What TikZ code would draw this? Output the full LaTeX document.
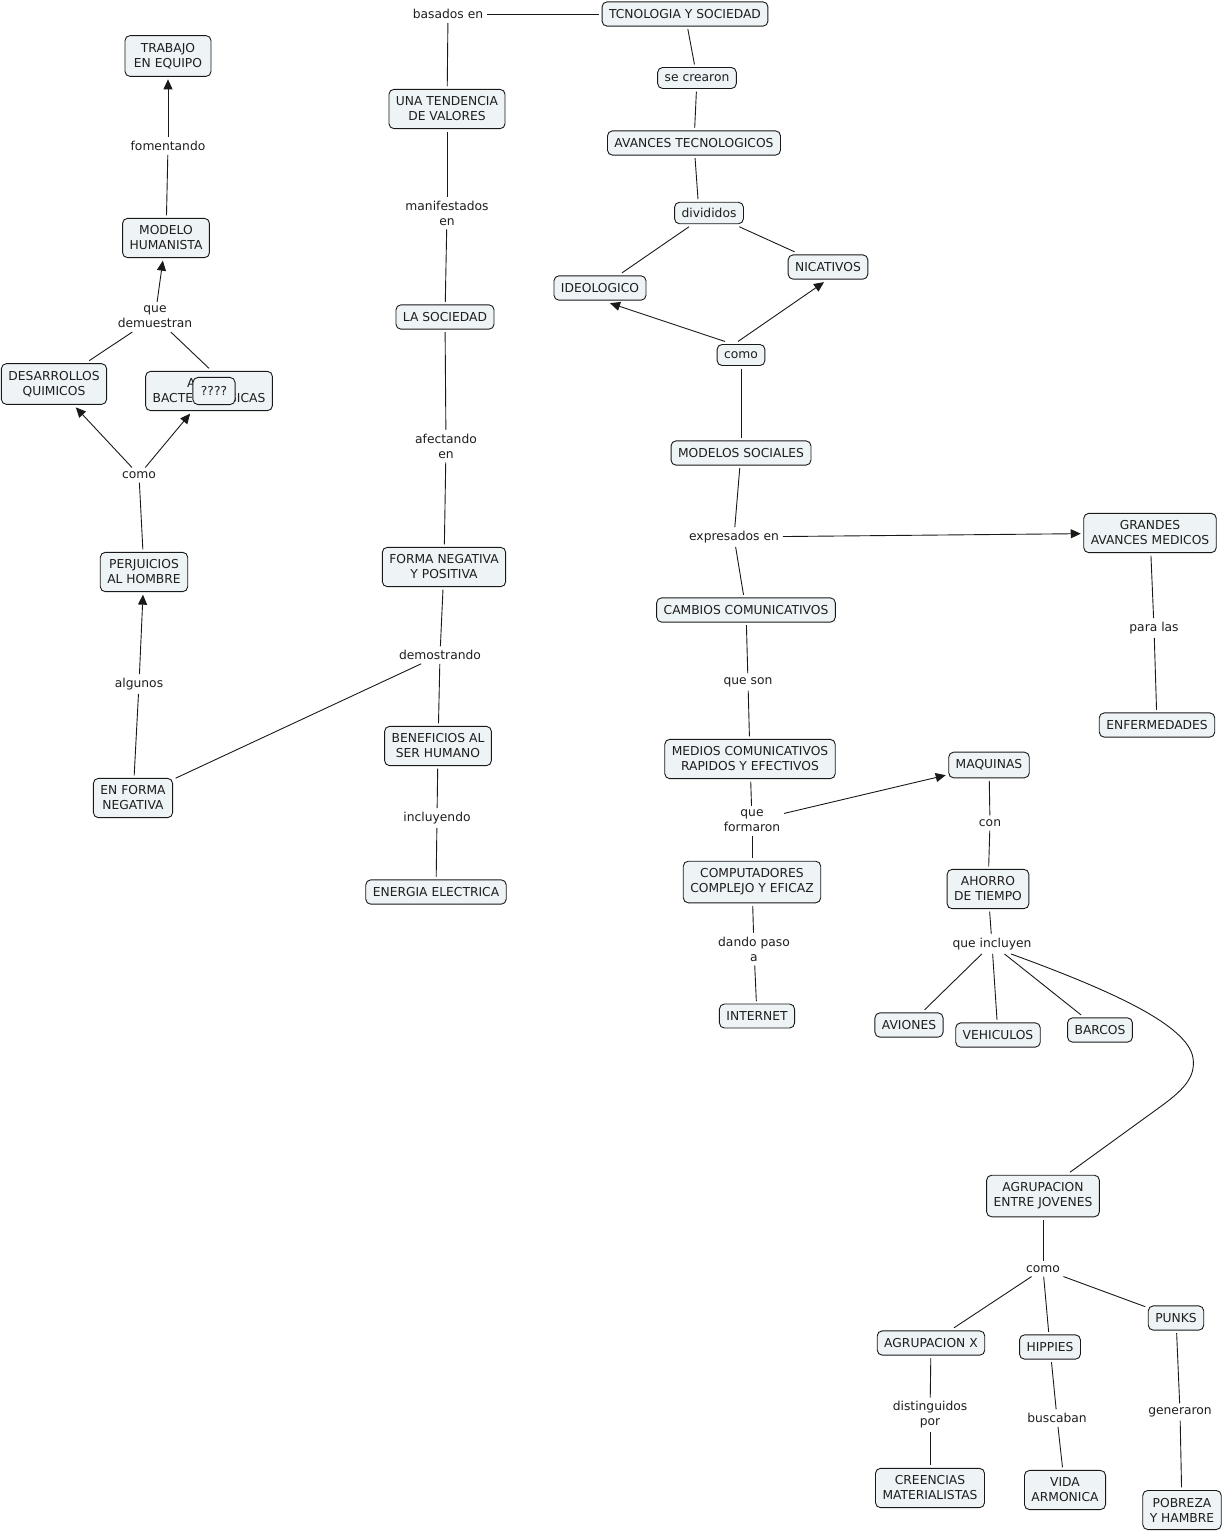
\documentclass[tikz,border=0pt]{standalone}
\usepackage{fontspec}
\setmainfont{DejaVu Sans}
\usetikzlibrary{arrows.meta}
\definecolor{cfill}{RGB}{238,243,246}
\definecolor{cline}{RGB}{25,25,25}
\definecolor{ctext}{RGB}{30,30,30}
\begin{document}
\begin{tikzpicture}[x=1pt,y=-1pt,
  every node/.style={font=\fontsize{12.3}{15}\selectfont, align=center, text=ctext},
  concept/.style={draw=cline, fill=cfill, rounded corners=5pt, line width=0.9pt, inner xsep=7pt, inner ysep=7.5pt, outer sep=3pt},
  lp/.style={inner sep=2pt, outer sep=2pt},
  conn/.style={draw=cline, line width=0.9pt},
  arr/.style={conn, -{Triangle[length=10pt,width=9pt]}}]
\fill[white] (0,0) rectangle (1228,1532);
\useasboundingbox (0,0) rectangle (1228,1532);

% middle-left column
\node[concept] (tys) at (685,14) {TCNOLOGIA Y SOCIEDAD};
\node[lp] (bas) at (448,14) {basados en};
\node[concept] (utv) at (447,109) {UNA TENDENCIA\\DE VALORES};
\node[lp] (man) at (447,213) {manifestados\\en};
\node[concept] (lso) at (445,317) {LA SOCIEDAD};
\node[lp] (afe) at (446,446) {afectando\\en};
\node[concept] (fnp) at (444,567) {FORMA NEGATIVA\\Y POSITIVA};
\node[lp] (dem) at (440,655) {demostrando};
\node[concept] (ben) at (438,746) {BENEFICIOS AL\\SER HUMANO};
\node[lp] (inc) at (437,818) {incluyendo};
\node[concept] (ene) at (436,892) {ENERGIA ELECTRICA};

% left column
\node[concept, inner xsep=9pt] (tra) at (168,56) {TRABAJO\\EN EQUIPO};
\node[lp] (fom) at (168,146) {fomentando};
\node[concept] (mod) at (166,238) {MODELO\\HUMANISTA};
\node[lp] (qde) at (155,317) {que\\demuestran};
\node[concept] (des) at (54,384) {DESARROLLOS\\QUIMICOS};
\node[concept] (arm) at (209,391) {ARMAS\\BACTEROLOGICAS};
\node[concept, inner xsep=8pt, inner ysep=9pt, outer sep=0pt] (qqq) at (214,391) {????};
\node[lp] (com2) at (139,475) {como};
\node[concept] (per) at (144,572) {PERJUICIOS\\AL HOMBRE};
\node[lp] (alg) at (139,684) {algunos};
\node[concept] (efn) at (133,798) {EN FORMA\\NEGATIVA};

% right part
\node[concept, inner ysep=7pt] (secr) at (697,78) {se crearon};
\node[concept] (avt) at (694,143) {AVANCES TECNOLOGICOS};
\node[concept, inner ysep=6pt] (div) at (709,213) {divididos};
\node[concept] (ide) at (600,288) {IDEOLOGICO};
\node[concept] (nic) at (828,267) {NICATIVOS};
\node[concept, inner ysep=7pt] (com1) at (741,355) {como};
\node[concept] (ms) at (741,453) {MODELOS SOCIALES};
\node[lp] (exp) at (734,537) {expresados en};
\node[concept] (gam) at (1150,533) {GRANDES\\AVANCES MEDICOS};
\node[lp] (par) at (1154,628) {para las};
\node[concept] (enf) at (1157,725) {ENFERMEDADES};
\node[concept] (cc) at (746,610) {CAMBIOS COMUNICATIVOS};
\node[lp] (qso) at (748,682) {que son};
\node[concept] (mcr) at (750,759) {MEDIOS COMUNICATIVOS\\RAPIDOS Y EFECTIVOS};
\node[lp] (qfo) at (752,821) {que\\formaron};
\node[concept] (maq) at (989,765) {MAQUINAS};
\node[lp] (con) at (990,823) {con};
\node[concept] (comp) at (752,882) {COMPUTADORES\\COMPLEJO Y EFICAZ};
\node[lp] (dpa) at (754,949) {dando paso\\a};
\node[concept] (int) at (757,1016) {INTERNET};
\node[concept] (aho) at (988,889) {AHORRO\\DE TIEMPO};
\node[lp] (qin) at (992,944) {que incluyen};
\node[concept] (avi) at (909,1025) {AVIONES};
\node[concept] (veh) at (998,1035) {VEHICULOS};
\node[concept] (bar) at (1100,1030) {BARCOS};
\node[concept] (aej) at (1043,1196) {AGRUPACION\\ENTRE JOVENES};
\node[lp] (com3) at (1043,1269) {como};
\node[concept] (agx) at (931,1343) {AGRUPACION X};
\node[concept] (hip) at (1050,1347) {HIPPIES};
\node[concept] (pun) at (1176,1318) {PUNKS};
\node[lp] (dis) at (930,1415) {distinguidos\\por};
\node[lp] (bus) at (1057,1418) {buscaban};
\node[lp] (gen) at (1180,1412) {generaron};
\node[concept] (cre) at (930,1488) {CREENCIAS\\MATERIALISTAS};
\node[concept] (vid) at (1065,1490) {VIDA\\ARMONICA};
\node[concept] (pob) at (1182,1510) {POBREZA\\Y HAMBRE};

% connectors: middle-left column
\draw[conn] (bas) -- (tys);
\draw[conn] (bas) -- (utv);
\draw[conn] (utv) -- (man);
\draw[conn] (man) -- (lso);
\draw[conn] (lso) -- (afe);
\draw[conn] (afe) -- (fnp);
\draw[conn] (fnp) -- (dem);
\draw[conn] (dem) -- (ben);
\draw[conn] (dem) -- (efn);
\draw[conn] (ben) -- (inc);
\draw[conn] (inc) -- (ene);

% left column
\draw[conn] (efn) -- (alg);
\draw[arr] (alg) -- (per);
\draw[conn] (per) -- (com2);
\draw[arr] (com2) -- (des);
\draw[arr] (com2) -- (arm);
\draw[conn] (des) -- (qde);
\draw[conn] (arm.north) -- (qde);
\draw[arr] (qde) -- (mod);
\draw[conn] (mod) -- (fom);
\draw[arr] (fom) -- (tra);

% right part
\draw[conn] (tys) -- (secr);
\draw[conn] (secr) -- (avt);
\draw[conn] (avt) -- ([xshift=-11pt]div.north);
\draw[conn] (div) -- (ide);
\draw[conn] (div) -- (nic);
\draw[arr] ([xshift=-16pt]com1.north) -- ([xshift=10pt]ide.south);
\draw[arr] ([xshift=-3pt]com1.north) -- ([xshift=-4pt]nic.south);
\draw[conn] (com1) -- (ms);
\draw[conn] (ms) -- (exp);
\draw[arr] (exp) -- (gam);
\draw[conn] (exp) -- (cc);
\draw[conn] (gam) -- (par);
\draw[conn] (par) -- (enf);
\draw[conn] (cc) -- (qso);
\draw[conn] (qso) -- (mcr);
\draw[conn] (mcr) -- (qfo);
\draw[arr] (qfo) -- (maq);
\draw[conn] (qfo) -- (comp);
\draw[conn] (comp) -- (dpa);
\draw[conn] (dpa) -- (int);
\draw[conn] (maq) -- (con);
\draw[conn] (con) -- (aho);
\draw[conn] (aho) -- (qin);
\draw[conn] (qin) -- (avi);
\draw[conn] (qin) -- (veh);
\draw[conn] (qin) -- (bar);
\draw[conn] ([xshift=19pt]qin.south) .. controls (1110,990) and (1188,1025) .. (1193,1058)
  .. controls (1196,1078) and (1182,1091) .. (1160,1107) -- ([xshift=27pt]aej.north);
\draw[conn] (aej) -- (com3);
\draw[conn] (com3) -- (agx);
\draw[conn] (com3) -- (hip);
\draw[conn] (com3) -- (pun);
\draw[conn] (agx) -- (dis);
\draw[conn] (dis) -- (cre);
\draw[conn] (hip) -- (bus);
\draw[conn] (bus) -- (vid);
\draw[conn] (pun) -- (gen);
\draw[conn] (gen) -- (pob);
\end{tikzpicture}
\end{document}
